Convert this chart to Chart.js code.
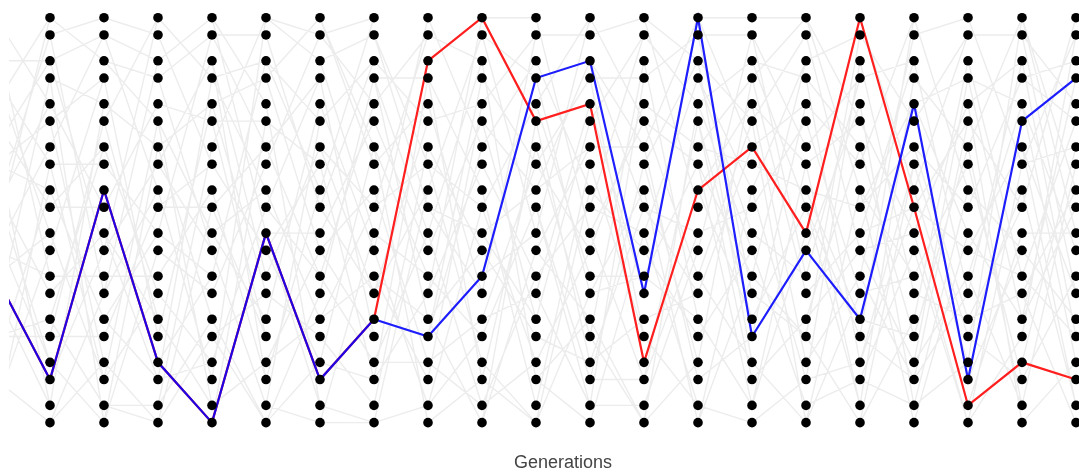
<!DOCTYPE html>
<html>
<head>
<meta charset="utf-8">
<script src="https://cdn.jsdelivr.net/npm/chart.js@4.4.1/dist/chart.umd.min.js"></script>
<style>
  html, body { margin: 0; padding: 0; background: #fff; overflow: hidden; }
  #wrap { width: 1126px; height: 474px; position: relative; }
</style>
</head>
<body>
<div id="wrap"><canvas id="Lineage"></canvas></div>
<script>
// generation numbers (gen 0 sits just off the left edge)
const generations = [0, 1, 2, 3, 4, 5, 6, 7, 8, 9, 10, 11, 12, 13, 14, 15, 16, 17, 18, 19, 20];

// vertical slot of each of the 20 individuals (0 = top)
const yLevels = [0, 1, 2.5, 3.5, 5, 6, 7.5, 8.5, 10, 11, 12.5, 13.5, 15, 16, 17.5, 18.5, 20, 21, 22.5, 23.5];

// highlighted ancestry, individual index per generation
const redPath  = [12, 17, 8, 16, 19, 10, 17, 14, 2, 0, 5, 4, 16, 8, 6, 10, 0, 9, 18, 16, 17];
const bluePath = [12, 17, 8, 16, 19, 10, 17, 14, 15, 12, 3, 2, 13, 0, 15, 11, 14, 4, 17, 5, 3];

// parents (in previous generation) of each individual, generations 1..20
const parentsA = [
  [4, 9, 2, 14, 0, 7, 11, 3, 16, 5, 12, 18, 1, 8, 15, 15, 10, 12, 6, 17],
  [1, 6, 0, 11, 3, 15, 9, 7, 17, 4, 13, 2, 12, 19, 8, 15, 5, 10, 14, 3],
  [5, 0, 13, 2, 9, 17, 4, 11, 1, 15, 7, 19, 12, 6, 10, 3, 8, 14, 18, 16],
  [2, 10, 7, 0, 15, 4, 18, 1, 12, 9, 5, 3, 16, 11, 6, 19, 13, 8, 14, 16],
  [6, 1, 12, 4, 0, 19, 9, 13, 3, 16, 19, 7, 2, 15, 10, 5, 18, 8, 11, 14],
  [3, 7, 0, 9, 14, 2, 12, 5, 17, 1, 10, 16, 6, 19, 8, 13, 11, 10, 4, 18],
  [8, 2, 5, 13, 1, 10, 16, 0, 11, 6, 19, 4, 14, 9, 17, 3, 12, 7, 15, 18],
  [11, 4, 14, 3, 7, 2, 18, 9, 13, 1, 16, 5, 10, 17, 3, 14, 8, 12, 19, 6],
  [2, 8, 1, 15, 5, 11, 0, 13, 3, 18, 9, 6, 15, 4, 16, 12, 7, 19, 10, 14],
  [0, 13, 6, 12, 9, 0, 17, 3, 10, 15, 1, 19, 7, 14, 5, 11, 18, 2, 8, 16],
  [10, 1, 3, 7, 5, 14, 8, 18, 2, 12, 0, 16, 4, 19, 11, 6, 15, 9, 13, 17],
  [1, 9, 15, 3, 11, 0, 6, 17, 13, 2, 19, 8, 12, 4, 16, 7, 4, 10, 18, 14],
  [13, 3, 7, 10, 1, 17, 4, 12, 16, 0, 9, 18, 5, 14, 2, 11, 19, 6, 15, 8],
  [0, 11, 4, 16, 8, 2, 13, 6, 19, 10, 3, 15, 7, 1, 8, 17, 12, 5, 14, 18],
  [0, 5, 12, 2, 15, 9, 1, 18, 7, 14, 6, 15, 10, 3, 17, 13, 4, 19, 11, 16],
  [10, 2, 17, 6, 11, 0, 14, 4, 19, 8, 13, 1, 16, 5, 11, 9, 3, 18, 7, 15],
  [7, 12, 3, 18, 14, 1, 9, 16, 0, 10, 5, 17, 13, 2, 19, 6, 11, 15, 4, 8],
  [1, 8, 14, 4, 10, 17, 3, 12, 0, 6, 19, 9, 16, 2, 13, 7, 18, 4, 9, 11],
  [6, 1, 13, 9, 3, 17, 11, 0, 15, 5, 18, 8, 2, 14, 10, 19, 18, 7, 12, 4],
  [9, 15, 3, 5, 1, 12, 7, 18, 0, 14, 10, 4, 17, 6, 11, 2, 19, 16, 8, 13]
];
// second parent where there was a crossover (null = none)
const parentsB = [
  [10, null, 6, null, 9, null, null, 19, 7, null, 3, null, 11, null, null, 15, 8, null, 13, null],
  [null, 2, null, 5, 18, null, 14, null, null, 9, null, 17, null, 1, null, null, 19, 7, null, 16],
  [11, null, 1, null, null, 2, 19, null, 13, null, 14, null, null, 17, 5, null, null, 10, null, 18],
  [null, 3, null, 17, 6, null, null, 9, null, 19, null, 7, 10, null, 18, null, 17, null, 5, null],
  [17, null, 3, null, null, 5, 1, null, 10, null, 0, null, null, 4, null, 9, null, 2, null, 15],
  [null, 0, null, 6, null, 18, null, 11, 2, null, null, 3, 9, null, 16, null, 19, null, 10, null],
  [1, null, 9, null, 12, null, 0, null, null, 14, 2, null, null, 6, null, 11, null, 16, null, 19],
  [null, 9, null, 17, null, 13, null, 1, 19, null, 3, null, 6, null, 12, null, 16, null, 11, null],
  [13, null, 10, null, 17, null, 15, null, null, 7, null, 14, null, 9, null, 18, null, 3, 16, null],
  [null, 4, null, 1, null, 19, null, 14, 5, null, 12, null, 18, null, 10, null, 9, null, null, 17],
  [4, null, 8, null, 13, null, 11, null, 19, null, null, 7, null, 3, 17, null, 5, null, 9, null],
  [null, 5, null, 18, null, 10, 2, null, null, 16, 9, null, 13, null, null, 3, null, 17, null, 15],
  [6, null, 0, null, 19, null, null, 5, 16, null, 17, null, null, 9, 12, null, 7, null, 10, null],
  [null, 1, null, 6, null, 12, 0, null, 3, null, null, 4, 19, null, 5, null, 2, null, 7, null],
  [3, null, 8, null, 6, null, null, 4, null, 2, 18, null, 1, null, null, 12, null, 8, null, 5],
  [null, 15, null, 12, null, 7, 3, null, 0, null, null, 14, null, 19, 8, null, 17, null, 9, null],
  [15, null, 10, null, 9, null, null, 19, null, 16, 11, null, 8, null, null, 14, null, 12, 17, null],
  [null, 5, null, 16, null, 9, 15, null, 18, null, 4, null, null, 17, 6, null, 8, null, null, 10],
  [16, null, 4, null, 12, null, null, 19, null, 14, null, 17, 11, null, 3, null, null, 15, 6, null],
  [null, 7, null, 14, null, 3, 16, null, 13, null, 0, null, null, 1, null, 12, 4, null, 6, null]
];

document.addEventListener('DOMContentLoaded', () => {

	let ctx = document.querySelector('#Lineage');

	// every individual as a dot
	let dots = [];
	for (let g of generations) {
		for (let y of yLevels) dots.push({x: g, y: y});
	}

	// gray parent -> child segments, split by gaps
	let links = [];
	for (let k = 1; k < generations.length; k++) {
		for (let c = 0; c < yLevels.length; c++) {
			for (let par of [parentsA[k - 1][c], parentsB[k - 1][c]]) {
				if (par === null) continue;
				links.push({x: generations[k - 1], y: yLevels[par]});
				links.push({x: generations[k], y: yLevels[c]});
				links.push({x: generations[k], y: null});
			}
		}
	}

	let path = p => p.map((idx, i) => ({x: generations[i], y: yLevels[idx]}));

	new Chart(ctx, {
		type: 'line',
		data: {
			datasets: [{
				type: 'scatter',
				data: dots,
				pointRadius: 4.8,
				pointBackgroundColor: '#000',
				pointBorderWidth: 0,
				clip: 0,
				order: 0
			}, {
				data: path(bluePath),
				borderColor: 'rgba(0,0,255,0.88)',
				borderWidth: 2.2,
				pointRadius: 0,
				clip: 0,
				order: 1
			}, {
				data: path(redPath),
				borderColor: '#ff1f1f',
				borderWidth: 2.2,
				pointRadius: 0,
				clip: 0,
				order: 2
			}, {
				data: links,
				borderColor: 'rgba(170,170,170,0.22)',
				borderWidth: 1.4,
				pointRadius: 0,
				spanGaps: false,
				clip: 0,
				order: 3
			}]
		},
		options: {
			responsive: true,
			maintainAspectRatio: false,
			animation: false,
			events: [],
			layout: { autoPadding: false, padding: { left: 9, right: 9, top: 0, bottom: 0 } },
			plugins: { legend: { display: false }, tooltip: { enabled: false } },
			scales: {
				x: {
					type: 'linear',
					min: 0.241,
					max: 20.759,
					grid: { display: false },
					border: { display: false },
					ticks: { display: false },
					title: {
						display: true,
						text: 'Generations',
						color: '#444',
						font: { family: 'Liberation Sans, Arial, sans-serif', size: 18 },
						padding: { top: 4, bottom: 0 }
					}
				},
				y: {
					type: 'linear',
					reverse: true,
					min: -1.028,
					max: 24.53,
					display: false
				}
			}
		}
	});
});
</script>
</body>
</html>
